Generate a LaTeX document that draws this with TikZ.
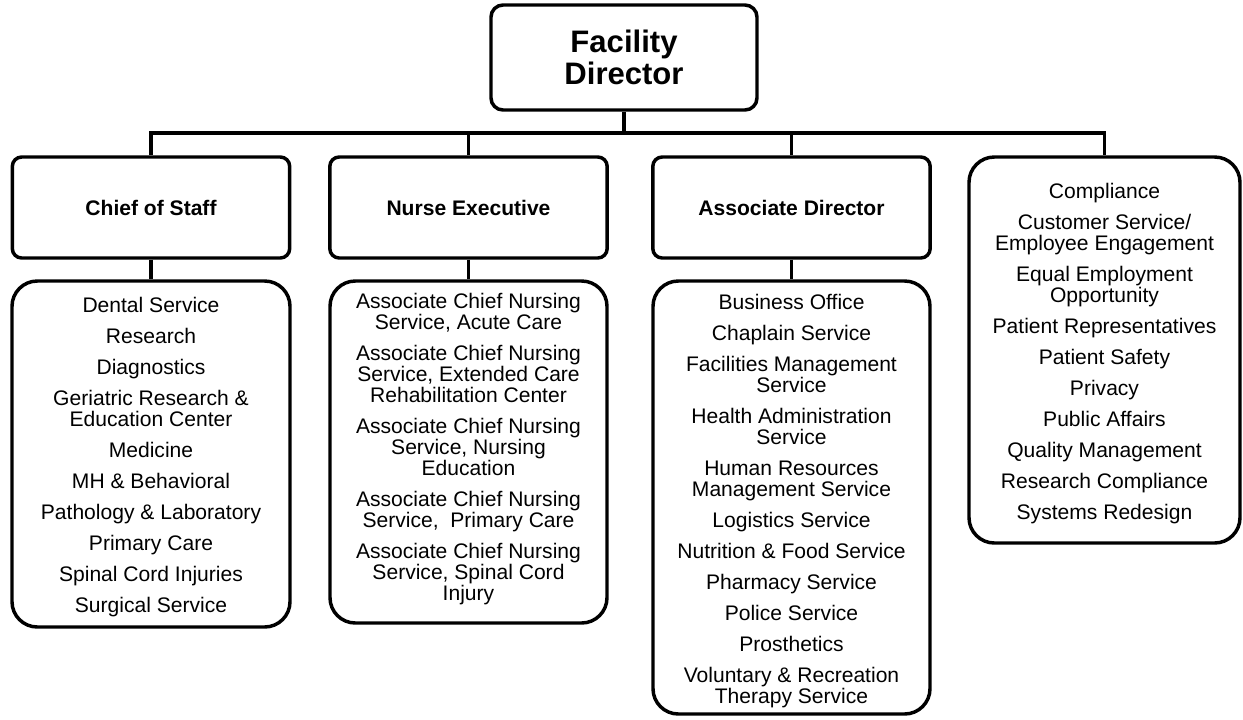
\documentclass[tikz,border=0pt]{standalone}
\usepackage{fontspec}
\setmainfont{Liberation Sans}
\begin{document}
\begin{tikzpicture}[x=0.75pt,y=-0.75pt,
  conn/.style={line width=2.7pt,line join=miter},
  titlebox/.style={draw,line width=2.6pt,rounded corners=7pt,minimum width=208pt,minimum height=75.75pt,inner sep=0pt,
     font=\fontsize{15.8}{16}\selectfont\bfseries},
  listbox/.style={draw,line width=2.6pt,rounded corners=19pt,inner sep=0pt},
  listtext/.style={anchor=north,inner sep=0pt,align=center,font=\fontsize{15.8}{15.75}\selectfont}
]
\useasboundingbox (0,0) rectangle (1243,719);

% Top box
\node[draw,line width=2.6pt,rounded corners=9pt,minimum width=199.5pt,minimum height=78.75pt,inner sep=0pt,align=center,
      font=\fontsize{23.3}{23.6}\selectfont\bfseries] (fd) at (624,57.5) {Facility\\Director};

% Title boxes
\node[titlebox] (cos) at (151,207.5) {Chief of Staff};
\node[titlebox] (ne)  at (468.5,207.5) {Nurse Executive};
\node[titlebox] (ad)  at (791.5,207.5) {Associate Director};

% List boxes
\node[listbox,minimum width=208.5pt,minimum height=259.5pt] (cosL) at (151,454) {};
\node[listbox,minimum width=207.75pt,minimum height=256.5pt] (neL) at (468.5,452) {};
\node[listbox,minimum width=207.75pt,minimum height=324.75pt] (adL) at (791.5,497.5) {};
\node[listbox,minimum width=203.25pt,minimum height=289.5pt] (rt) at (1104.5,350) {};

% List texts
\node[listtext] (cosT) at (151,297) {Dental Service\\[7.5pt]Research\\[7.5pt]Diagnostics\\[7.5pt]Geriatric Research \&\\Education Center\\[7.5pt]Medicine\\[7.5pt]MH \& Behavioral\\[7.5pt]Pathology \& Laboratory\\[7.5pt]Primary Care\\[7.5pt]Spinal Cord Injuries\\[7.5pt]Surgical Service};
\node[listtext] (neT) at (468.5,293) {Associate Chief Nursing\\Service, Acute Care\\[7.5pt]Associate Chief Nursing\\Service, Extended Care\\Rehabilitation Center\\[7.5pt]Associate Chief Nursing\\Service, Nursing\\Education\\[7.5pt]Associate Chief Nursing\\Service,\ \ Primary Care\\[7.5pt]Associate Chief Nursing\\Service, Spinal Cord\\Injury};
\node[listtext] (adT) at (791.5,294) {Business Office\\[7.5pt]Chaplain Service\\[7.5pt]Facilities Management\\Service\\[7.5pt]Health Administration\\Service\\[7.5pt]Human Resources\\Management Service\\[7.5pt]Logistics Service\\[7.5pt]Nutrition \& Food Service\\[7.5pt]Pharmacy Service\\[7.5pt]Police Service\\[7.5pt]Prosthetics\\[7.5pt]Voluntary \& Recreation\\Therapy Service};
\node[listtext] (rtT) at (1104.5,183) {Compliance\\[7.5pt]Customer Service/\\Employee Engagement\\[7.5pt]Equal Employment\\Opportunity\\[7.5pt]Patient Representatives\\[7.5pt]Patient Safety\\[7.5pt]Privacy\\[7.5pt]Public Affairs\\[7.5pt]Quality Management\\[7.5pt]Research Compliance\\[7.5pt]Systems Redesign};

% Connectors
\coordinate (bus) at (624,133);
\draw[conn] (fd.south) -- (fd.south |- bus);
\draw[conn] (cos.north) -- (cos.north |- bus) -- (rt.north |- bus) -- (rt.north);
\draw[conn] (ne.north) -- (ne.north |- bus);
\draw[conn] (ad.north) -- (ad.north |- bus);
\draw[conn] (cos.south) -- (cosL.north);
\draw[conn] (ne.south) -- (neL.north);
\draw[conn] (ad.south) -- (adL.north);
\end{tikzpicture}
\end{document}
